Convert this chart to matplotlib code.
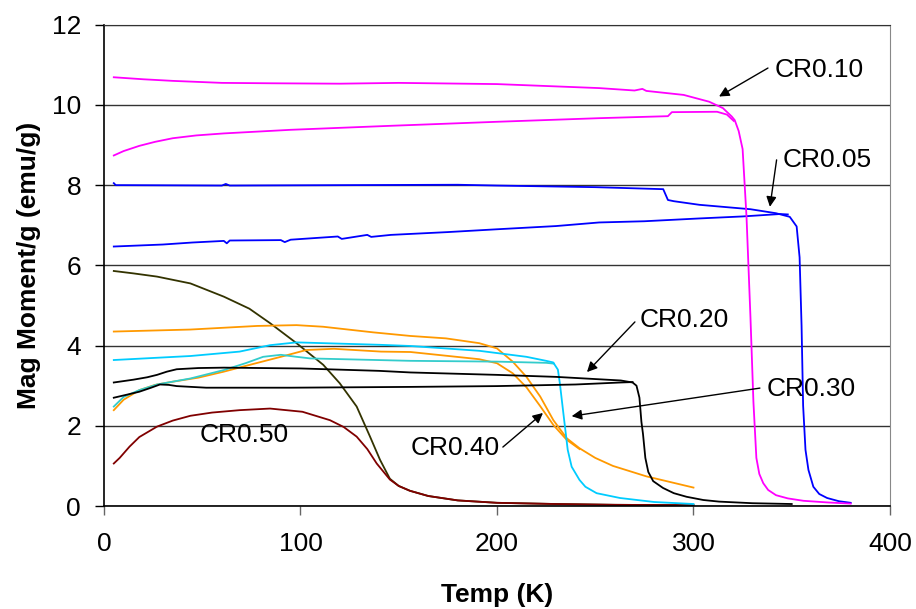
import matplotlib
matplotlib.use("Agg")
import matplotlib.pyplot as plt

plt.rcParams["font.family"] = ["Liberation Sans", "DejaVu Sans"]

# CR0.10 : field cooled / zero field cooled
t_fc_010 = [5, 20, 35, 60, 85, 120, 150, 200, 252, 270, 274, 276, 295, 308, 315, 319.5,
            321, 323, 325, 327, 329, 330.5, 332, 333.5, 335.5, 338, 342, 348, 356, 368, 380]
m_fc_010 = [10.69, 10.64, 10.6, 10.55, 10.54, 10.53, 10.55, 10.52, 10.42, 10.36, 10.4, 10.35,
            10.25, 10.08, 9.92, 9.71, 9.62, 9.35, 8.9, 7.2, 4.7, 2.6, 1.2, 0.8, 0.57, 0.4, 0.27,
            0.19, 0.13, 0.09, 0.06]
t_zfc_010 = [5, 10, 18, 26, 35, 47, 61, 95, 146, 200, 252, 287, 289, 312, 317, 320.5]
m_zfc_010 = [8.74, 8.85, 8.98, 9.08, 9.17, 9.24, 9.29, 9.38, 9.48, 9.58, 9.67, 9.72, 9.82,
             9.83, 9.76, 9.6]

# CR0.05
t_fc_005 = [5, 6, 10, 60, 62, 64, 120, 180, 200, 250, 284.6, 287, 290, 303, 329, 342, 349,
            352.5, 354, 355, 355.8, 357, 358.5, 361, 364, 368, 374, 380]
m_fc_005 = [8.05, 8.0, 8.0, 7.99, 8.03, 7.99, 8.0, 8.01, 7.99, 7.95, 7.9, 7.63, 7.6, 7.51,
            7.40, 7.30, 7.21, 6.97, 6.2, 4.5, 2.5, 1.4, 0.9, 0.48, 0.3, 0.2, 0.12, 0.08]
t_zfc_005 = [5, 30, 45, 61, 62.5, 64, 90, 92, 95, 119, 121, 134, 136, 146, 175, 200, 230,
             252, 275, 303, 325, 344, 348]
m_zfc_005 = [6.47, 6.52, 6.57, 6.61, 6.55, 6.62, 6.63, 6.58, 6.64, 6.72, 6.66, 6.76, 6.71,
             6.76, 6.83, 6.9, 6.98, 7.07, 7.1, 7.17, 7.22, 7.28, 7.27]

# CR0.20
t_fc_020 = [5, 15, 22, 27, 32, 37, 48, 61, 100, 140, 156, 200, 230, 263, 269, 271, 272.5,
            273.5, 274.3, 275.5, 277, 279.5, 284.5, 290, 296.5, 305, 313, 330, 350]
m_fc_020 = [3.08, 3.15, 3.21, 3.27, 3.35, 3.41, 3.44, 3.45, 3.43, 3.37, 3.33, 3.27, 3.22,
            3.13, 3.08, 3.0, 2.7, 2.1, 1.8, 1.2, 0.85, 0.62, 0.45, 0.32, 0.23, 0.15, 0.11,
            0.07, 0.05]
t_zfc_020 = [5, 12, 18, 24, 28.5, 33, 37, 52, 95, 156, 200, 240, 263, 269]
m_zfc_020 = [2.70, 2.78, 2.85, 2.95, 3.03, 3.02, 2.99, 2.95, 2.95, 2.97, 2.99, 3.03, 3.08, 3.09]

# CR0.30
t_fc_030 = [5, 44, 69, 84.5, 98, 140, 156, 191, 215, 225, 228.6, 231, 232, 233.6, 236, 238,
            242, 245, 250.7, 262.6, 280, 300]
m_fc_030 = [3.64, 3.74, 3.85, 4.01, 4.08, 4.02, 3.99, 3.87, 3.72, 3.62, 3.58, 3.4, 3.06, 2.39,
            1.40, 0.98, 0.65, 0.48, 0.32, 0.2, 0.1, 0.05]
t_zfc_030 = [5, 10, 18, 27, 44, 61, 72, 81, 90, 98, 105, 156, 200, 225, 229]
m_zfc_030 = [2.48, 2.72, 2.89, 3.03, 3.18, 3.39, 3.56, 3.72, 3.77, 3.72, 3.68, 3.62, 3.6,
             3.57, 3.55]

# CR0.40
t_fc_040 = [5, 44, 78, 98, 111.5, 137, 156, 174, 191, 200, 208, 215, 222, 228.7, 235.5, 242,
            250, 259, 276, 300]
m_fc_040 = [4.35, 4.40, 4.49, 4.51, 4.47, 4.33, 4.24, 4.18, 4.06, 3.93, 3.6, 3.22, 2.73, 2.14,
            1.69, 1.44, 1.2, 1.0, 0.74, 0.46]
t_zfc_040 = [5, 10, 18, 26, 35, 48, 61, 75, 90, 103, 117, 141, 156, 191, 200, 208, 215, 222,
             228.7, 235.5, 242]
m_zfc_040 = [2.39, 2.65, 2.89, 3.02, 3.1, 3.2, 3.35, 3.53, 3.72, 3.89, 3.92, 3.85, 3.84, 3.66,
             3.56, 3.31, 2.96, 2.49, 2.02, 1.65, 1.42]

# CR0.50
t_fc_050 = [5, 15, 27, 44, 61, 74, 84.5, 98, 111.6, 120, 128.6, 135.4, 140.5, 145.5, 150,
            155.7, 165, 180, 200, 230, 260, 300]
m_fc_050 = [5.86, 5.8, 5.72, 5.55, 5.22, 4.92, 4.56, 4.06, 3.52, 3.06, 2.48, 1.73, 1.15, 0.68,
            0.5, 0.38, 0.25, 0.14, 0.08, 0.05, 0.03, 0.02]
t_zfc_050 = [5, 8, 13, 18, 27, 35, 44, 55, 69, 84.5, 101, 115, 122, 128.6, 134, 138.8, 145.5,
             150, 155.7, 165, 180, 200, 230, 260, 300]
m_zfc_050 = [1.06, 1.2, 1.48, 1.72, 1.98, 2.13, 2.25, 2.33, 2.39, 2.43, 2.35, 2.14, 1.97, 1.73,
             1.42, 1.06, 0.66, 0.5, 0.38, 0.25, 0.14, 0.08, 0.05, 0.03, 0.02]

fig = plt.figure(figsize=(9.16, 6.09), dpi=100)
ax = fig.add_axes([0.1135, 0.1691, 0.8581, 0.7903])

lw = 1.3
ax.plot(t_fc_050, m_fc_050, color="#333300", lw=lw)
ax.plot(t_zfc_050, m_zfc_050, color="#800000", lw=lw)
ax.plot(t_zfc_040, m_zfc_040, color="#FF9900", lw=lw)
ax.plot(t_fc_040, m_fc_040, color="#FF9900", lw=lw)
ax.plot(t_zfc_030, m_zfc_030, color="#33CCCC", lw=lw)
ax.plot(t_fc_030, m_fc_030, color="#00CCFF", lw=lw)
ax.plot(t_fc_020, m_fc_020, color="black", lw=lw)
ax.plot(t_zfc_020, m_zfc_020, color="black", lw=lw)
ax.plot(t_fc_005, m_fc_005, color="#0000FF", lw=lw)
ax.plot(t_zfc_005, m_zfc_005, color="#0000FF", lw=lw)
ax.plot(t_fc_010, m_fc_010, color="#FF00FF", lw=lw)
ax.plot(t_zfc_010, m_zfc_010, color="#FF00FF", lw=lw)

ax.set_xlim(0, 400)
ax.set_ylim(0, 12)
ax.set_xticks(range(0, 401, 100))
ax.set_yticks(range(0, 13, 2))
ax.yaxis.grid(True, color="#333333", lw=1.0)
ax.set_axisbelow(True)

ax.spines["top"].set_color("#333333")
ax.spines["right"].set_color("#888888")
ax.spines["left"].set_linewidth(1.2)
ax.spines["bottom"].set_linewidth(1.2)
ax.tick_params(axis="both", direction="out", length=6.5, width=1, labelsize=19)
ax.tick_params(axis="x", pad=12, color="#666666")
ax.tick_params(axis="y", pad=10)

ax.set_xlabel("Temp (K)", fontsize=19, fontweight="bold", labelpad=20)
ax.set_ylabel("Mag Moment/g (emu/g)", fontsize=19, fontweight="bold", labelpad=8)

arrow = dict(arrowstyle="-|>", color="black", lw=1.0, mutation_scale=15,
             shrinkA=0, shrinkB=0)
labels = [
    ("CR0.10", (341.5, 10.88), (337.9, 10.92), (313, 10.21)),
    ("CR0.05", (345.5, 8.63), (342.3, 8.63), (338.9, 7.46)),
    ("CR0.20", (272.8, 4.64), (270.2, 4.59), (245.8, 3.34)),
    ("CR0.30", (337.4, 2.93), (333.8, 2.94), (238.0, 2.24)),
]
for text, pos, tail, head in labels:
    ax.text(pos[0], pos[1], text, fontsize=19, ha="left", va="center")
    ax.annotate("", xy=head, xytext=tail, arrowprops=arrow)

ax.text(201.2, 1.45, "CR0.40", fontsize=19, ha="right", va="center")
ax.annotate("", xy=(223.4, 2.32), xytext=(203, 1.47), arrowprops=arrow)
ax.text(48.9, 1.77, "CR0.50", fontsize=19, ha="left", va="center")

fig.savefig("out.png", dpi=100)
